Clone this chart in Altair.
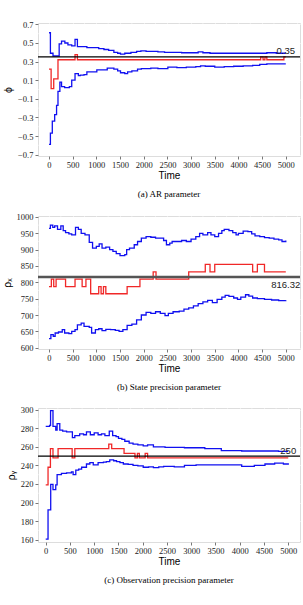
import altair as alt
import pandas as pd

# ---------------- data ----------------
x_ticks = [0, 500, 1000, 1500, 2000, 2500, 3000, 3500, 4000, 4500, 5000]
x_minor = [250, 750, 1250, 1750, 2250, 2750, 3250, 3750, 4250, 4750, 5250]

# Panel (a): AR parameter
p1_up_t = [0, 30, 85, 215, 265, 335, 400, 480, 550, 600, 700, 800, 940, 1050, 1160, 1260, 1370, 1450, 1510, 1600,
           1730, 1850, 1940, 2050, 2150, 2300, 2440, 2600, 2800, 3000, 3150, 3250, 3400, 3600, 3800, 4000, 4200,
           4400, 4600, 4800, 5000]
p1_up_v = [0.61, 0.39, 0.36, 0.49, 0.52, 0.50, 0.48, 0.47, 0.54, 0.46, 0.46, 0.45, 0.45, 0.44, 0.43, 0.42, 0.40,
           0.39, 0.38, 0.39, 0.40, 0.41, 0.415, 0.41, 0.41, 0.405, 0.40, 0.40, 0.395, 0.395, 0.405, 0.395, 0.39,
           0.39, 0.39, 0.39, 0.39, 0.39, 0.395, 0.39, 0.39]
p1_est_t = [0, 45, 100, 190, 550, 600, 4470, 4520, 4560, 4600, 4960, 5000]
p1_est_v = [0.22, 0.01, 0.115, 0.32, 0.375, 0.32, 0.35, 0.32, 0.35, 0.32, 0.35, 0.35]
p1_lo_t = [0, 30, 70, 120, 160, 190, 230, 265, 330, 430, 480, 550, 620, 660, 740, 800, 900, 1010, 1120, 1230,
           1300, 1370, 1450, 1510, 1600, 1660, 1750, 1870, 1950, 2150, 2300, 2510, 2700, 2900, 3100, 3200, 3300,
           3500, 3700, 3900, 4100, 4300, 4450, 4600, 4800, 5000]
p1_lo_v = [-0.59, -0.47, -0.34, -0.27, -0.17, -0.02, 0.08, 0.03, 0.02, 0.03, 0.10, 0.17, 0.15, 0.155, 0.16, 0.19,
           0.19, 0.21, 0.21, 0.23, 0.23, 0.22, 0.20, 0.18, 0.17, 0.19, 0.20, 0.22, 0.225, 0.23, 0.225, 0.24, 0.235,
           0.24, 0.245, 0.255, 0.25, 0.24, 0.245, 0.25, 0.255, 0.26, 0.27, 0.275, 0.275, 0.275]
p1_true = 0.35
p1_label = "0.35"
p1_yticks = [-0.7, -0.5, -0.3, -0.1, 0.1, 0.3, 0.5, 0.7]
p1_yminor = [-0.6, -0.4, -0.2, 0.0, 0.2, 0.4, 0.6]

# Panel (b): state precision
p2_up_t = [0, 30, 80, 120, 180, 250, 300, 350, 420, 480, 560, 620, 680, 760, 850, 920, 1000, 1060, 1120, 1200,
           1280, 1350, 1420, 1500, 1600, 1640, 1700, 1800, 1870, 1950, 2050, 2150, 2250, 2350, 2420, 2480, 2550,
           2600, 2700, 2800, 2900, 3000, 3100, 3180, 3250, 3350, 3420, 3500, 3580, 3650, 3700, 3800, 3880, 3950,
           4000, 4100, 4200, 4280, 4350, 4450, 4550, 4650, 4750, 4850, 4920, 5000]
p2_up_v = [965, 975, 968, 973, 962, 973, 958, 952, 948, 945, 968, 962, 950, 945, 922, 905, 910, 918, 905, 908,
           900, 895, 888, 882, 885, 900, 905, 915, 925, 935, 940, 938, 935, 935, 928, 915, 920, 925, 925, 928,
           925, 932, 940, 950, 945, 952, 945, 940, 950, 958, 962, 958, 952, 945, 950, 957, 955, 948, 942, 940,
           937, 935, 932, 930, 925, 928]
p2_est_t = [0, 50, 100, 150, 350, 550, 700, 780, 880, 1050, 1100, 1150, 1200, 1650, 1920, 2200, 2260, 2950,
            3300, 3400, 3500, 4300, 4400, 4550, 5000]
p2_est_v = [787, 810, 787, 810, 787, 810, 787, 810, 765, 787, 765, 787, 765, 787, 810, 832, 810, 832,
            855, 832, 855, 832, 855, 832, 832]
p2_lo_t = [0, 40, 90, 130, 200, 280, 330, 420, 480, 550, 600, 680, 740, 850, 900, 980, 1050, 1120, 1200, 1300,
           1400, 1480, 1560, 1650, 1750, 1850, 1950, 2050, 2150, 2250, 2350, 2450, 2520, 2620, 2750, 2850, 2950,
           3050, 3150, 3250, 3350, 3450, 3550, 3650, 3720, 3800, 3900, 3980, 4050, 4150, 4220, 4300, 4400, 4550,
           4700, 4850, 5000]
p2_lo_v = [628, 640, 635, 645, 648, 655, 645, 643, 650, 655, 670, 675, 665, 662, 645, 655, 658, 652, 656, 655,
           653, 650, 655, 668, 672, 685, 700, 708, 705, 710, 705, 698, 705, 710, 712, 718, 722, 728, 735, 740,
           745, 738, 748, 755, 760, 757, 752, 748, 755, 762, 758, 752, 750, 748, 746, 744, 745]
p2_true = 816.32
p2_label = "816.32"
p2_yticks = [600, 650, 700, 750, 800, 850, 900, 950, 1000]
p2_yminor = [625, 675, 725, 775, 825, 875, 925, 975]

# Panel (c): observation precision
p3_up_t = [0, 80, 100, 150, 207, 235, 290, 350, 430, 500, 550, 600, 700, 780, 840, 920, 1000, 1080, 1150, 1220,
           1310, 1380, 1450, 1500, 1570, 1630, 1720, 1800, 1900, 2010, 2100, 2220, 2350, 2460, 2650, 2860, 3050,
           3280, 3450, 3620, 3800, 4040, 4300, 4520, 4800, 5000]
p3_up_v = [282, 283, 299, 282, 278, 285, 278, 277, 276, 276, 270, 272, 274, 273, 276, 273, 275, 273, 274, 272,
           277, 272, 271, 269, 268, 266, 264, 263, 262, 261, 262, 260, 260, 259.5, 259.5, 259, 259, 258, 258,
           256, 256, 255.5, 255.5, 255.5, 255, 255]
p3_est_t = [0, 48, 97, 150, 255, 545, 600, 1300, 1360, 1615, 1840, 1890, 1930, 2050, 2100, 5000]
p3_est_v = [219, 238, 258, 248, 258, 248, 258, 263, 258, 253, 248, 253, 248, 253, 248, 248]
p3_lo_t = [0, 48, 103, 150, 207, 235, 324, 430, 530, 565, 620, 680, 740, 840, 910, 980, 1080, 1190, 1250, 1320,
           1400, 1460, 1530, 1600, 1700, 1800, 1900, 2010, 2120, 2220, 2330, 2430, 2650, 2860, 3100, 3480, 3800,
           4040, 4300, 4520, 4720, 4900, 5000]
p3_lo_v = [160.7, 192, 219.5, 214, 219, 230, 231.5, 232, 233, 230, 235, 236, 238, 241.5, 243, 240.5, 243, 243.5,
           244, 246, 245, 244, 243, 241.5, 241, 240, 239.5, 238, 238.5, 237.5, 238.5, 239, 238.5, 240, 240.5,
           240.5, 240.5, 239, 240, 241.5, 242.5, 241.5, 240.7]
p3_true = 250
p3_label = "250"
p3_yticks = [160, 180, 200, 220, 240, 260, 280, 300]
p3_yminor = [170, 190, 210, 230, 250, 270, 290]

SERIF = "Liberation Serif"
SANS = "Liberation Sans"


def panel(up_t, up_v, est_t, est_v, lo_t, lo_v, truth, label, yticks, yminor, ydom, xdom,
          ytitle, yfmt, caption, hcolor, hwidth, label_above, height):
    df = pd.concat([
        pd.DataFrame({"t": up_t, "v": up_v, "s": "upper"}),
        pd.DataFrame({"t": est_t, "v": est_v, "s": "est"}),
        pd.DataFrame({"t": lo_t, "v": lo_v, "s": "lower"}),
    ])
    X = alt.X("t:Q", scale=alt.Scale(domain=xdom, nice=False, zero=False),
              axis=alt.Axis(values=x_ticks, title="Time", format="d", labelFont=SERIF, labelFontSize=8.5,
                            labelColor="#222", tickColor="#555", tickSize=3, tickWidth=0.8, domain=False,
                            grid=True, gridColor="white", gridWidth=1.1, labelPadding=1.5,
                            labelOverlap=False, labelFlush=False, titleFont=SANS, titleFontSize=10,
                            titleFontWeight="normal", titleColor="black", titlePadding=1.5))
    Y = alt.Y("v:Q", scale=alt.Scale(domain=ydom, nice=False, zero=False),
              axis=alt.Axis(values=yticks, title=ytitle, format=yfmt, labelFont=SERIF, labelFontSize=8.5,
                            labelColor="#222", tickColor="#555", tickSize=3, tickWidth=0.8, domain=False,
                            grid=True, gridColor="white", gridWidth=1.1, labelPadding=2,
                            labelOverlap=False, labelFlush=False, titleFont=SANS, titleFontSize=10.5,
                            titleFontWeight="normal", titleColor="black", titlePadding=4))
    xm = [v for v in x_minor if xdom[0] < v < xdom[1]]
    minor_x = alt.Chart(pd.DataFrame({"t": xm})).mark_rule(color="white", strokeWidth=0.5).encode(x=X)
    minor_y = alt.Chart(pd.DataFrame({"v": yminor})).mark_rule(color="white", strokeWidth=0.5).encode(y=Y)
    lines = alt.Chart(df).mark_line(interpolate="step-after", strokeWidth=1.3).encode(
        x=X, y=Y,
        color=alt.Color("s:N", scale=alt.Scale(domain=["upper", "est", "lower"],
                                               range=["#1010f0", "#f02828", "#1010f0"]), legend=None),
        detail="s:N",
    )
    hdf = pd.DataFrame({"v": [truth], "t": [5000], "label": [label]})
    hline = alt.Chart(hdf).mark_rule(color=hcolor, strokeWidth=hwidth).encode(y=Y)
    txt = alt.Chart(hdf).mark_text(
        font=SANS, fontSize=9.5, color="#222", align="center",
        baseline="bottom" if label_above else "top",
        dy=-0.5 if label_above else 3,
    ).encode(x=X, y=Y, text="label:N")
    return alt.layer(minor_x, minor_y, lines, hline, txt).properties(
        width=262, height=height,
        title=alt.TitleParams(caption, orient="bottom", font=SERIF, fontSize=9, fontWeight="normal",
                              color="black", offset=9),
    )


c1 = panel(p1_up_t, p1_up_v, p1_est_t, p1_est_v, p1_lo_t, p1_lo_v, p1_true, p1_label, p1_yticks, p1_yminor,
           [-0.715, 0.715], [-232, 5300], "ϕ", ".1f", "(a) AR parameter", "black", 1.2, True, 133)
c2 = panel(p2_up_t, p2_up_v, p2_est_t, p2_est_v, p2_lo_t, p2_lo_v, p2_true, p2_label, p2_yticks, p2_yminor,
           [596, 1003], [-232, 5300], "ρₓ", "d", "(b) State precision parameter", "#555555", 2.5, False, 133)
c3 = panel(p3_up_t, p3_up_v, p3_est_t, p3_est_v, p3_lo_t, p3_lo_v, p3_true, p3_label, p3_yticks, p3_yminor,
           [157.5, 301.8], [-159, 5242], "ρᵧ", "d", "(c) Observation precision parameter", "black", 1.2, True, 134)

chart = alt.vconcat(c1, c2, c3, spacing=13).properties(
    padding={"left": 1, "top": 19, "right": 0, "bottom": 0}
).configure_view(fill="#E5E5E5", stroke=None).configure(background="white")

chart.save("out.html", embed_options={"renderer": "svg", "actions": False})
